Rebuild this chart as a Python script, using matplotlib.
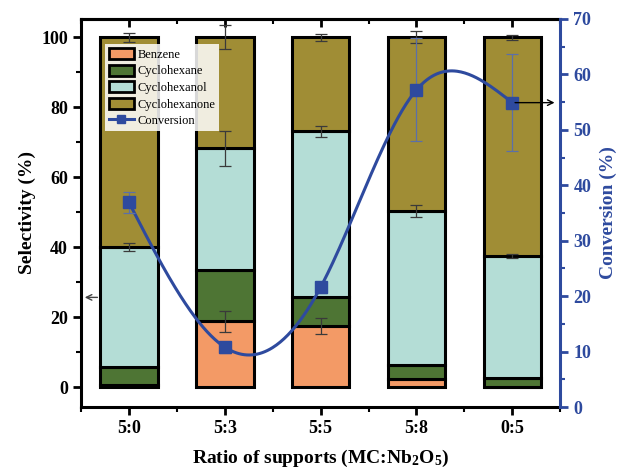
import numpy as np
import matplotlib
matplotlib.use('Agg')
from matplotlib import pyplot as plt
from matplotlib.patches import Patch
from matplotlib.lines import Line2D

plt.rcParams['font.family'] = 'serif'
plt.rcParams['font.serif'] = ['Liberation Serif', 'DejaVu Serif']
plt.rcParams['mathtext.fontset'] = 'custom'
plt.rcParams['mathtext.rm'] = 'Liberation Serif:bold'
plt.rcParams['mathtext.bf'] = 'Liberation Serif:bold'
plt.rcParams['mathtext.default'] = 'rm'

# ratio of supports
ratios = ['5:0', '5:3', '5:5', '5:8', '0:5']

# selectivity (%)
benzene = [0.8, 18.9, 17.5, 2.5, 0.0]
cyclohexane = [4.9, 14.6, 8.2, 3.8, 2.6]
cyclohexanol = [34.3, 34.8, 47.4, 44.0, 34.9]
cyclohexanone = [60.0, 31.7, 26.9, 49.7, 62.5]

# error bars on selectivity (top, cyclohexanol/cyclohexanone border, benzene)
err_top = [1.3, 3.5, 1.0, 1.7, 0.7]
err_mid = [1.2, 5.0, 1.5, 1.7, 0.5]
err_benz = [0.0, 3.0, 2.3, 0.0, 0.0]

# conversion (%)
conversion = [36.9, 10.8, 21.6, 57.2, 54.9]
conv_err = [1.9, 1.0, 1.0, 9.3, 8.7]

c_benz = '#F39A66'
c_hexane = '#4E7534'
c_hexanol = '#B4DDD6'
c_hexanone = '#A08D35'
c_blue = '#2E4A9E'


def natural_spline(x, y, n=300):
    x = np.asarray(x, float)
    y = np.asarray(y, float)
    m = len(x)
    h = np.diff(x)
    A = np.zeros((m, m))
    b = np.zeros(m)
    A[0, 0] = 1
    A[-1, -1] = 1
    for i in range(1, m - 1):
        A[i, i - 1] = h[i - 1]
        A[i, i] = 2 * (h[i - 1] + h[i])
        A[i, i + 1] = h[i]
        b[i] = 6 * ((y[i + 1] - y[i]) / h[i] - (y[i] - y[i - 1]) / h[i - 1])
    M = np.linalg.solve(A, b)
    xs = np.linspace(x[0], x[-1], n)
    k = np.clip(np.searchsorted(x, xs) - 1, 0, m - 2)
    t1 = x[k + 1] - xs
    t0 = xs - x[k]
    hk = h[k]
    ys = (M[k] * t1 ** 3 / (6 * hk) + M[k + 1] * t0 ** 3 / (6 * hk)
          + (y[k] / hk - M[k] * hk / 6) * t1 + (y[k + 1] / hk - M[k + 1] * hk / 6) * t0)
    return xs, ys


fig = plt.figure(figsize=(6.33, 4.73), dpi=100)
ax = fig.add_axes([0.128, 0.1395, 0.757, 0.8205])
ax2 = ax.twinx()

x = np.arange(len(ratios))
w = 0.6
bottom = np.zeros(len(ratios))
for vals, col in [(benzene, c_benz), (cyclohexane, c_hexane),
                  (cyclohexanol, c_hexanol), (cyclohexanone, c_hexanone)]:
    ax.bar(x, vals, w, bottom=bottom, color=col, edgecolor='black', linewidth=2.2, zorder=2)
    bottom = bottom + np.array(vals)

# selectivity error bars
tops = np.array(benzene) + np.array(cyclohexane) + np.array(cyclohexanol) + np.array(cyclohexanone)
mids = np.array(benzene) + np.array(cyclohexane) + np.array(cyclohexanol)
ekw = dict(fmt='none', ecolor='#3a3a3a', elinewidth=0.9, capsize=4, capthick=0.9, zorder=3)
ax.errorbar(x, tops, yerr=err_top, **ekw)
ax.errorbar(x, mids, yerr=err_mid, **ekw)
ib = [i for i in range(len(ratios)) if err_benz[i] > 0]
ax.errorbar(x[ib], np.array(benzene)[ib], yerr=np.array(err_benz)[ib], **ekw)

ax.set_xlim(-0.5, 4.5)
ax.set_ylim(-5.6, 105.2)
ax.set_xticks(x)
ax.set_xticklabels(ratios)
ax.set_xticks(np.arange(-0.5, 4.6, 1), minor=True)
ax.set_yticks([0, 20, 40, 60, 80, 100])
ax.set_yticks([10, 30, 50, 70, 90], minor=True)
ax.tick_params(axis='both', which='major', labelsize=13, width=2, length=6, direction='out')
ax.tick_params(axis='both', which='minor', width=1.5, length=3.5, direction='out')
for lab in ax.get_xticklabels() + ax.get_yticklabels():
    lab.set_fontweight('bold')
ax.set_ylabel('Selectivity (%)', fontsize=14, fontweight='bold', labelpad=4)
ax.set_xlabel('Ratio of supports (MC:Nb$_{2}$O$_{5}$)', fontsize=14, fontweight='bold', labelpad=8)
for s in ['left', 'bottom', 'top']:
    ax.spines[s].set_linewidth(2.2)
ax.spines['right'].set_visible(False)

# top ticks pointing inward
top = ax.secondary_xaxis('top')
top.set_xticks(x)
top.set_xticklabels([])
top.set_xticks(np.arange(-0.5, 4.6, 1), minor=True)
top.tick_params(which='major', direction='in', width=2, length=6)
top.tick_params(which='minor', direction='in', width=1.5, length=3.5)
top.spines['top'].set_linewidth(2.2)

# conversion curve
xs, ys = natural_spline(x, conversion)
ax2.plot(xs, ys, color=c_blue, linewidth=2.2, zorder=4)
ax2.errorbar(x, conversion, yerr=conv_err, fmt='none', ecolor='#5b6fa8', elinewidth=0.9,
             capsize=4, capthick=0.9, zorder=4)
ax2.plot(x, conversion, 's', color=c_blue, markersize=8, zorder=5)
ax2.set_ylim(0, 70)
ax2.set_yticks(np.arange(0, 71, 10))
ax2.set_yticks(np.arange(5, 70, 10), minor=True)
ax2.tick_params(axis='y', which='major', colors=c_blue, labelsize=13, width=2, length=6)
ax2.tick_params(axis='y', which='minor', colors=c_blue, width=1.5, length=3.5)
for lab in ax2.get_yticklabels():
    lab.set_fontweight('bold')
ax2.set_ylabel('Conversion (%)', fontsize=14, fontweight='bold', color=c_blue, labelpad=6)
ax2.spines['right'].set_color(c_blue)
ax2.spines['right'].set_linewidth(2.2)
for s in ['left', 'bottom', 'top']:
    ax2.spines[s].set_visible(False)

# arrows pointing to the matching axis
ax.annotate('', xy=(-0.49, 25.7), xytext=(-0.3, 25.7),
            arrowprops=dict(arrowstyle='->', color='#444444', lw=1.0), zorder=6)
ax2.annotate('', xy=(4.47, conversion[4]), xytext=(x[4], conversion[4]),
             arrowprops=dict(arrowstyle='->', color='black', lw=1.0), zorder=6)

handles = [Patch(facecolor=c_benz, edgecolor='black', linewidth=2, label='Benzene'),
           Patch(facecolor=c_hexane, edgecolor='black', linewidth=2, label='Cyclohexane'),
           Patch(facecolor=c_hexanol, edgecolor='black', linewidth=2, label='Cyclohexanol'),
           Patch(facecolor=c_hexanone, edgecolor='black', linewidth=2, label='Cyclohexanone'),
           Line2D([0], [0], color=c_blue, lw=2.2, marker='s', markersize=6, label='Conversion')]
leg = ax2.legend(handles=handles, loc='upper left', bbox_to_anchor=(0.05, 0.935),
                 fontsize=9, frameon=True, framealpha=0.85, edgecolor='none',
                 fancybox=False, handlelength=2.0, handleheight=1.0, borderpad=0.3,
                 labelspacing=0.3, handletextpad=0.3, borderaxespad=0)
leg.set_zorder(10)

plt.savefig('out.png', dpi=100)
